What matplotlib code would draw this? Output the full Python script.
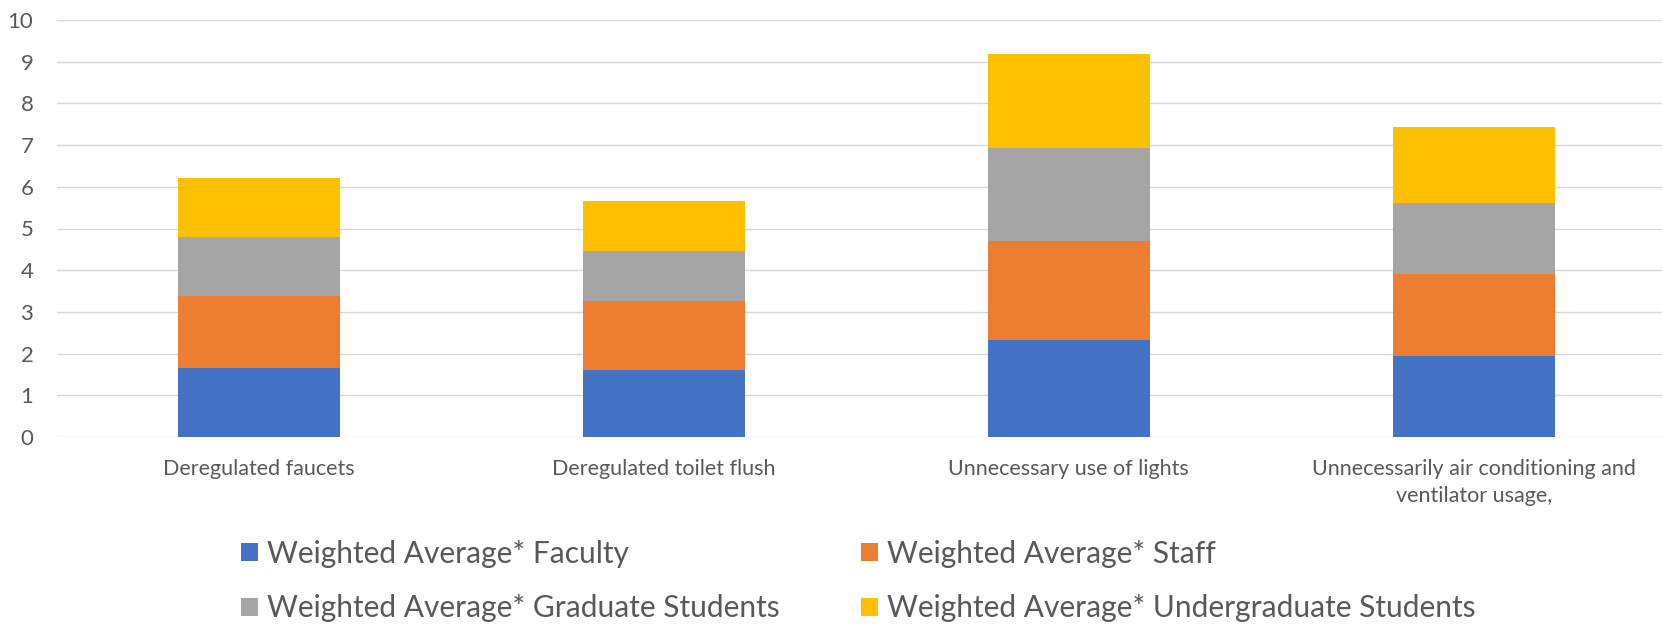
import matplotlib
matplotlib.use("Agg")
import matplotlib.pyplot as plt
import numpy as np

plt.rcParams['font.family'] = ['Lato', 'DejaVu Sans']

categories = ['Deregulated faucets', 'Deregulated toilet flush',
              'Unnecessary use of lights',
              'Unnecessarily air conditioning and\nventilator usage,']
faculty = [1.66, 1.61, 2.33, 1.94]
staff = [1.72, 1.64, 2.37, 1.98]
graduate = [1.42, 1.22, 2.24, 1.69]
undergrad = [1.41, 1.19, 2.24, 1.83]

series = [
    ('Weighted Average* Faculty', faculty, '#4472C4'),
    ('Weighted Average* Staff', staff, '#ED7D31'),
    ('Weighted Average* Graduate Students', graduate, '#A5A5A5'),
    ('Weighted Average* Undergraduate Students', undergrad, '#FFC000'),
]

txt = '#595959'

fig = plt.figure(figsize=(16.62, 6.24), dpi=100)
ax = fig.add_axes([57 / 1662, 1 - 437 / 624, 1605 / 1662, 417 / 624])

x = np.arange(len(categories))
bottom = np.zeros(len(categories))
handles = {}
for name, vals, col in series:
    b = ax.bar(x, vals, 0.4, bottom=bottom, color=col, label=name, zorder=2)
    handles[name] = b
    bottom += np.array(vals)

ax.set_ylim(0, 10)
ax.set_yticks(range(0, 11))
ax.set_xlim(-0.4975, 3.465)
ax.set_xticks(x)
ax.set_xticklabels(categories, fontsize=15.5, color=txt, linespacing=1.45)
ax.tick_params(axis='y', labelsize=16, colors=txt, length=0, pad=17)
ax.tick_params(axis='x', length=0, pad=16)
ax.grid(axis='y', color='#d9d9d9', linewidth=1.0, zorder=0)
for s in ax.spines.values():
    s.set_visible(False)

leg_kw = dict(frameon=False, fontsize=21.5, handlelength=0.56, handleheight=0.56,
              handletextpad=0.3, labelspacing=0.9, borderpad=0, borderaxespad=0,
              labelcolor=txt, loc='center left')
l1 = fig.legend([handles[series[0][0]], handles[series[2][0]]],
                [series[0][0], series[2][0]],
                bbox_to_anchor=(241 / 1662, 1 - 581 / 624), **leg_kw)
l2 = fig.legend([handles[series[1][0]], handles[series[3][0]]],
                [series[1][0], series[3][0]],
                bbox_to_anchor=(861 / 1662, 1 - 581 / 624), **leg_kw)

fig.savefig('out.png', dpi=100)
